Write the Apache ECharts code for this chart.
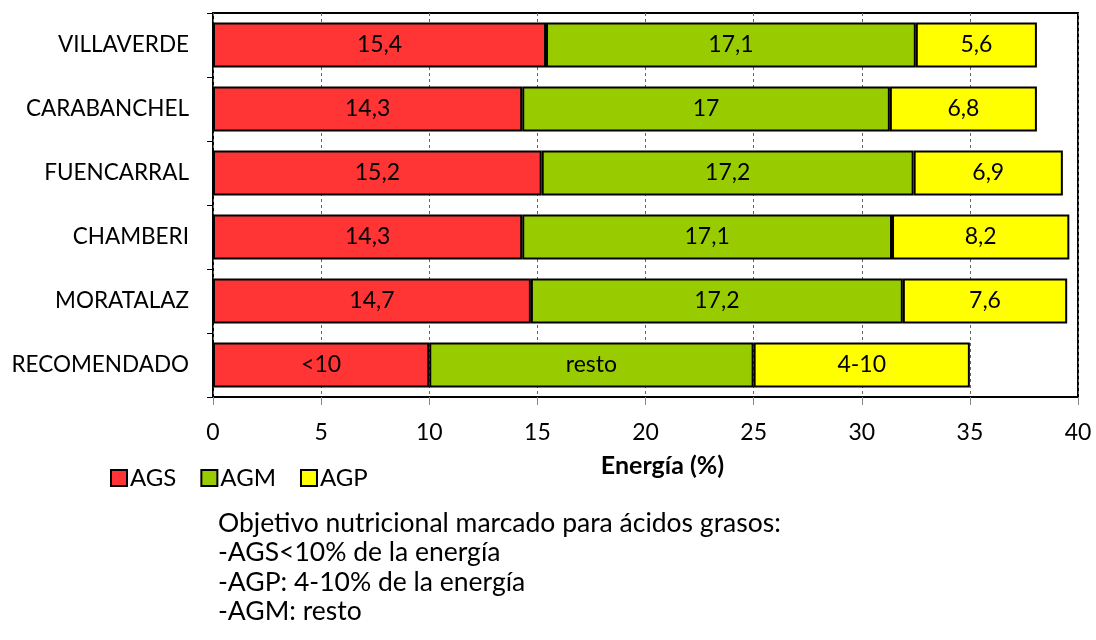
<!DOCTYPE html>
<html>
<head>
<meta charset="utf-8">
<script src="https://cdn.jsdelivr.net/npm/echarts@6/dist/echarts.min.js"></script>
<style>
  html, body { margin: 0; padding: 0; background: #fff; }
  #chart { width: 1096px; height: 640px; }
</style>
</head>
<body>
<div id="chart"></div>
<script>
const categories = ["VILLAVERDE", "CARABANCHEL", "FUENCARRAL", "CHAMBERI", "MORATALAZ", "RECOMENDADO"];
const ags = [15.4, 14.3, 15.2, 14.3, 14.7, 10];
const agm = [17.1, 17, 17.2, 17.1, 17.2, 15];
const agp = [5.6, 6.8, 6.9, 8.2, 7.6, 10];
// the recommended row shows text instead of numbers
const recLabels = { AGS: "<10", AGM: "resto", AGP: "4-10" };
const xTicks = [0, 5, 10, 15, 20, 25, 30, 35, 40];
const notes = [
  "Objetivo nutricional marcado para ácidos grasos:",
  "-AGS<10% de la energía",
  "-AGP: 4-10% de la energía",
  "-AGM: resto"
];

const font = "Lato, 'Open Sans', sans-serif";

function makeSeries(name, data, color) {
  return {
    name: name,
    type: "bar",
    stack: "total",
    data: data,
    barCategoryGap: "30%",
    itemStyle: { color: color, borderColor: "#000", borderWidth: 2 },
    label: {
      show: true,
      position: "inside",
      color: "#000",
      fontSize: 23,
      fontFamily: font,
      formatter: (p) =>
        p.name === "RECOMENDADO" ? recLabels[name] : String(p.value).replace(".", ",")
    }
  };
}

const chart = echarts.init(document.getElementById("chart"));
chart.setOption({
  animation: false,
  grid: {
    left: 213, right: 18, top: 13, bottom: 243,
    show: true, borderColor: "#000", borderWidth: 2, backgroundColor: "transparent"
  },
  legend: {
    left: 105, top: 461,
    itemWidth: 16, itemHeight: 16, itemGap: 24,
    icon: "rect",
    textStyle: { fontSize: 24, fontFamily: font, color: "#000", padding: [2, 0, 0, -2] },
    data: ["AGS", "AGM", "AGP"]
  },
  xAxis: {
    type: "value",
    min: xTicks[0], max: xTicks[xTicks.length - 1], interval: 5,
    name: "Energía (%)",
    nameLocation: "middle",
    nameGap: 56,
    nameTextStyle: {
      fontSize: 25, fontWeight: "bold", fontFamily: font, color: "#000",
      padding: [0, 0, 0, 34]
    },
    axisLine: { show: false },
    axisTick: { show: true, length: 8, lineStyle: { color: "#888" } },
    axisLabel: { fontSize: 23, fontFamily: font, color: "#000", margin: 24 },
    splitLine: { show: true, lineStyle: { color: "#666", type: [3, 3], width: 1 } }
  },
  yAxis: {
    type: "category",
    data: categories,
    inverse: true,
    axisLine: { show: false },
    axisTick: { show: true, length: 6, lineStyle: { color: "#000" } },
    axisLabel: { fontSize: 22.5, fontFamily: font, color: "#000", margin: 24 }
  },
  graphic: notes.map((t, i) => ({
    type: "text",
    x: 218,
    y: 523 + i * 29.5,
    style: { text: t, fontSize: 26.5, fontFamily: font, fill: "#000", verticalAlign: "middle" }
  })),
  series: [
    makeSeries("AGS", ags, "#FF3535"),
    makeSeries("AGM", agm, "#99CC00"),
    makeSeries("AGP", agp, "#FFFF00")
  ]
});
</script>
</body>
</html>
